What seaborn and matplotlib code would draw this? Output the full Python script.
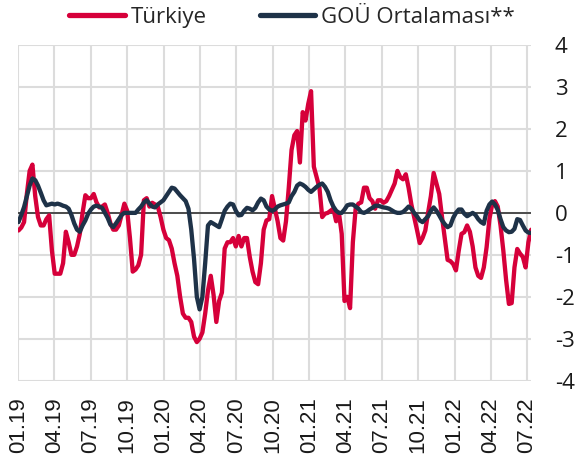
import pandas as pd
import matplotlib.pyplot as plt
from matplotlib.lines import Line2D
import seaborn as sns

# weekly observations, 01.2019 - 07.2022
dates = pd.date_range('2019-01-01', periods=185, freq='7D')

turkiye = [
    -0.42, -0.35, -0.22, 0.45, 1.0, 1.15, 0.4, -0.1, -0.3, -0.3,
    -0.15, -0.06, -0.9, -1.45, -1.45, -1.45, -1.2, -0.45, -0.7, -1.0,
    -1.0, -0.8, -0.5, 0.0, 0.42, 0.35, 0.35, 0.45, 0.25, 0.13,
    0.15, 0.2, 0.0, -0.25, -0.4, -0.4, -0.3, -0.05, 0.22, 0.05,
    -0.6, -1.4, -1.35, -1.25, -1.0, 0.3, 0.35, 0.15, 0.24, 0.2,
    0.15, -0.1, -0.4, -0.6, -0.65, -0.85, -1.2, -1.5, -2.0, -2.4,
    -2.5, -2.5, -2.6, -2.95, -3.08, -3.0, -2.85, -2.4, -1.85, -1.5,
    -1.95, -2.6, -2.1, -1.9, -0.85, -0.7, -0.7, -0.6, -0.8, -0.55,
    -0.8, -0.6, -0.6, -1.05, -1.4, -1.65, -1.7, -1.2, -0.4, -0.18,
    -0.15, 0.4, 0.1, -0.2, -0.6, -0.66, -0.2, 0.6, 1.5, 1.85,
    1.95, 1.2, 2.4, 2.2, 2.6, 2.9, 1.1, 0.85, 0.6, -0.1,
    -0.02, 0.0, 0.05, 0.1, -0.2, 0.0, -0.5, -2.1, -2.0, -2.27,
    -0.7, 0.1, 0.22, 0.25, 0.6, 0.6, 0.35, 0.28, 0.1, 0.3,
    0.3, 0.24, 0.28, 0.4, 0.55, 0.7, 1.0, 0.85, 0.8, 0.92,
    0.6, 0.2, -0.1, -0.4, -0.72, -0.6, -0.42, 0.0, 0.4, 0.95,
    0.7, 0.45, -0.1, -0.6, -1.12, -1.15, -1.22, -1.37, -0.9, -0.5,
    -0.46, -0.3, -0.45, -0.8, -1.3, -1.5, -1.55, -1.3, -0.82, -0.15,
    0.2, 0.28, 0.15, -0.3, -0.9, -1.6, -2.17, -2.15, -1.3, -0.86,
    -0.97, -1.05, -1.3, -0.7, -0.4,
]

gou = [
    -0.22, -0.05, 0.14, 0.4, 0.65, 0.82, 0.78, 0.65, 0.48, 0.3,
    0.18, 0.2, 0.22, 0.2, 0.22, 0.2, 0.17, 0.15, 0.1, -0.05,
    -0.25, -0.4, -0.45, -0.3, -0.18, -0.02, 0.08, 0.15, 0.17, 0.15,
    0.12, 0.0, -0.12, -0.28, -0.34, -0.25, -0.15, -0.05, 0.0, 0.0,
    0.0, 0.0, 0.0, 0.08, 0.15, 0.25, 0.3, 0.22, 0.15, 0.13,
    0.2, 0.25, 0.3, 0.4, 0.5, 0.6, 0.58, 0.5, 0.42, 0.35,
    0.28, 0.1, -0.4, -1.1, -2.0, -2.3, -2.0, -1.2, -0.3, -0.22,
    -0.26, -0.3, -0.34, -0.15, 0.05, 0.15, 0.22, 0.2, 0.05, -0.06,
    -0.05, 0.05, 0.12, 0.1, 0.06, 0.12, 0.25, 0.34, 0.3, 0.15,
    0.08, 0.05, 0.08, 0.15, 0.18, 0.2, 0.22, 0.25, 0.4, 0.5,
    0.65, 0.7, 0.67, 0.62, 0.55, 0.5, 0.56, 0.62, 0.67, 0.7,
    0.62, 0.5, 0.3, 0.15, 0.05, 0.0, 0.0, 0.08, 0.18, 0.2,
    0.2, 0.15, 0.1, 0.02, 0.0, 0.03, 0.08, 0.12, 0.17, 0.17,
    0.15, 0.13, 0.12, 0.1, 0.06, 0.02, 0.0, 0.0, 0.02, 0.08,
    0.15, 0.1, 0.0, -0.08, -0.18, -0.22, -0.15, -0.08, 0.05, 0.13,
    0.05, -0.06, -0.18, -0.27, -0.34, -0.3, -0.12, 0.0, 0.08, 0.08,
    -0.02, -0.08, -0.04, 0.0, -0.05, -0.15, -0.22, -0.26, 0.05, 0.2,
    0.27, 0.2, 0.07, -0.15, -0.34, -0.42, -0.46, -0.45, -0.38, -0.15,
    -0.17, -0.3, -0.42, -0.47, -0.48,
]

series_names = ['Türkiye', 'GOÜ Ortalaması**']
colors = ['#D6003A', '#1E3248']
tick_dates = pd.date_range('2019-01-01', '2022-07-01', freq='3MS')
tick_labels = [d.strftime('%m.%y') for d in tick_dates]
y_ticks = [-4, -3, -2, -1, 0, 1, 2, 3, 4]

df = pd.DataFrame({'date': dates, series_names[0]: turkiye, series_names[1]: gou})
long_df = df.melt('date', var_name='seri', value_name='deger')

sns.set_style('white')
plt.rcParams['font.family'] = ['Open Sans', 'DejaVu Sans']

fig = plt.figure(figsize=(5.78, 4.66), dpi=100)
ax = fig.add_axes([0.032, 0.183, 0.887, 0.7204])

sns.lineplot(data=long_df, x='date', y='deger', hue='seri',
             hue_order=series_names, palette=dict(zip(series_names, colors)),
             linewidth=3.1, ax=ax, legend=False, zorder=3,
             solid_joinstyle='round')

ax.axhline(0, color='#404040', lw=1.3, zorder=2)

ax.set_xlim(dates[0], dates[-1])
ax.set_ylim(-4, 4)
ax.set_yticks(y_ticks)
ax.set_yticklabels([str(v) for v in y_ticks], fontsize=16)
ax.yaxis.tick_right()
ax.set_xticks(tick_dates)
ax.set_xticklabels(tick_labels, rotation=90, fontsize=16,
                   family=['Liberation Sans', 'DejaVu Sans'])
ax.tick_params(axis='y', length=0, pad=17, colors='#1a1a1a')
ax.tick_params(axis='x', length=0, pad=12, colors='#1a1a1a')
ax.set_xlabel('')
ax.set_ylabel('')

ax.grid(True, color='#DCDCDC', lw=1.5, zorder=0)
for s in ax.spines.values():
    s.set_visible(False)

handles = [Line2D([], [], color=c, lw=3.8, solid_capstyle='round') for c in colors]
fig.legend(handles, series_names, loc='center', bbox_to_anchor=(0.505, 0.962),
           ncol=2, frameon=False, fontsize=16, handlelength=2.5,
           handletextpad=0.25, columnspacing=2.4)

fig.savefig('out.png', dpi=100)
